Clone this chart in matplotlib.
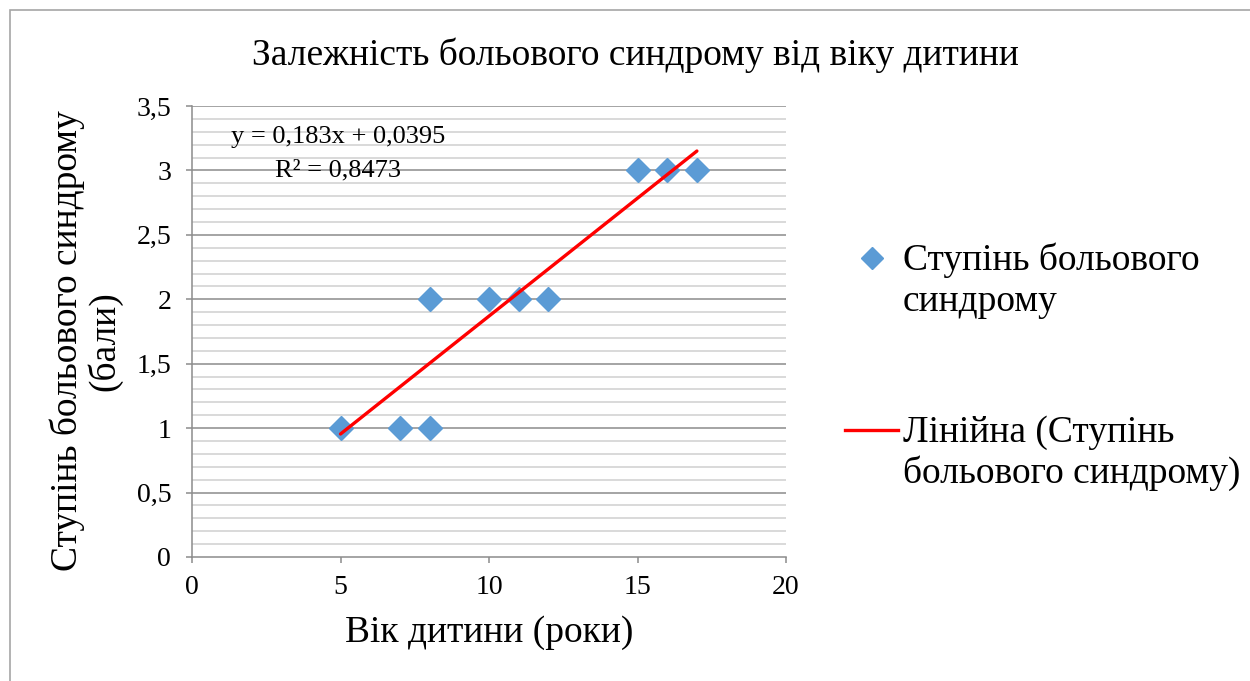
import matplotlib
matplotlib.use("Agg")
import matplotlib.pyplot as plt
import numpy as np
from matplotlib.lines import Line2D
from matplotlib.patches import Rectangle

plt.rcParams['font.family'] = ['Liberation Serif', 'DejaVu Serif']

# Data
age = [5, 7, 8, 8, 10, 11, 12, 15, 16, 17]
pain = [1, 1, 1, 2, 2, 2, 2, 3, 3, 3]
slope = 0.183
intercept = 0.0395
r2 = 0.8473
x_ticks = [0, 5, 10, 15, 20]
y_ticks = [0, 0.5, 1, 1.5, 2, 2.5, 3, 3.5]

title = "Залежність больового синдрому від віку дитини"
xlabel = "Вік дитини (роки)"
ylabel = "Ступінь больового синдрому\n(бали)"
series_label = "Ступінь больового\nсиндрому"
trend_label = "Лінійна (Ступінь\nбольового синдрому)"

W, H = 1250, 681
fig = plt.figure(figsize=(W / 100, H / 100), dpi=100)


def fx(px):
    return px / W


def fy(py):
    return 1 - py / H


# outer chart frame
fig.patches.append(Rectangle((fx(10), -0.1), 1.2, fy(10) + 0.1,
                             transform=fig.transFigure, fill=False,
                             edgecolor='#a6a6a6', linewidth=1.2))

ax = fig.add_axes([fx(192), fy(557), (786 - 192) / W, (557 - 106) / H])
ax.set_xlim(0, 20)
ax.set_ylim(0, 3.5)

# gridlines: major every 0.5, minor every 0.1
for v in np.arange(0.1, 3.51, 0.1):
    is_major = abs(v * 2 - round(v * 2)) < 1e-6
    ax.axhline(v, color='#8c8c8c' if is_major else '#d0d0d0',
               linewidth=1.1, zorder=0)

# points and trendline
ax.plot(age, pain, linestyle='none', marker='D', markersize=12.5,
        color='#5b9bd5', zorder=3)
xs = np.array([min(age), max(age)])
ax.plot(xs, slope * xs + intercept, color='#ff0000', linewidth=2.4,
        solid_capstyle='round', zorder=4)

ax.set_xticks(x_ticks)
ax.set_xticklabels([str(t) for t in x_ticks])
ax.set_yticks(y_ticks)
ax.set_yticklabels([f"{t:g}".replace('.', ',') for t in y_ticks])
ax.tick_params(axis='both', labelsize=20, color='#8c8c8c', length=4,
               width=1.1, direction='out')
ax.tick_params(axis='x', pad=9)
ax.tick_params(axis='y', pad=11)
for s in ['top', 'right']:
    ax.spines[s].set_visible(False)
for s in ['left', 'bottom']:
    ax.spines[s].set_color('#8c8c8c')
    ax.spines[s].set_linewidth(1.1)

ax.text(4.92, 3.26, f"y = {slope:g}x + {intercept:g}".replace('.', ','),
        ha='center', va='center', fontsize=19)
ax.text(4.92, 3.0, f"R² = {r2:g}".replace('.', ','),
        ha='center', va='center', fontsize=19)

fig.text(fx(635), fy(55), title, ha='center', va='center', fontsize=27)
fig.text(fx(489), fy(633), xlabel, ha='center', va='center', fontsize=27)
fig.text(fx(86), fy(341), ylabel, ha='center', va='center',
         fontsize=27, rotation=90, multialignment='center', linespacing=1.05)

# legend entries, handles aligned with the first text line
fig.add_artist(Line2D([fx(872)], [fy(258)], linestyle='none', marker='D',
                      markersize=11, color='#5b9bd5',
                      transform=fig.transFigure))
fig.text(fx(903), fy(243), series_label, ha='left', va='top', fontsize=27,
         linespacing=1.22)
fig.add_artist(Line2D([fx(845), fx(898)], [fy(430), fy(430)],
                      color='#ff0000', linewidth=2.4,
                      transform=fig.transFigure))
fig.text(fx(903), fy(415), trend_label, ha='left', va='top',
         fontsize=27, linespacing=1.22)

fig.savefig("out.png", dpi=100, facecolor='white')
